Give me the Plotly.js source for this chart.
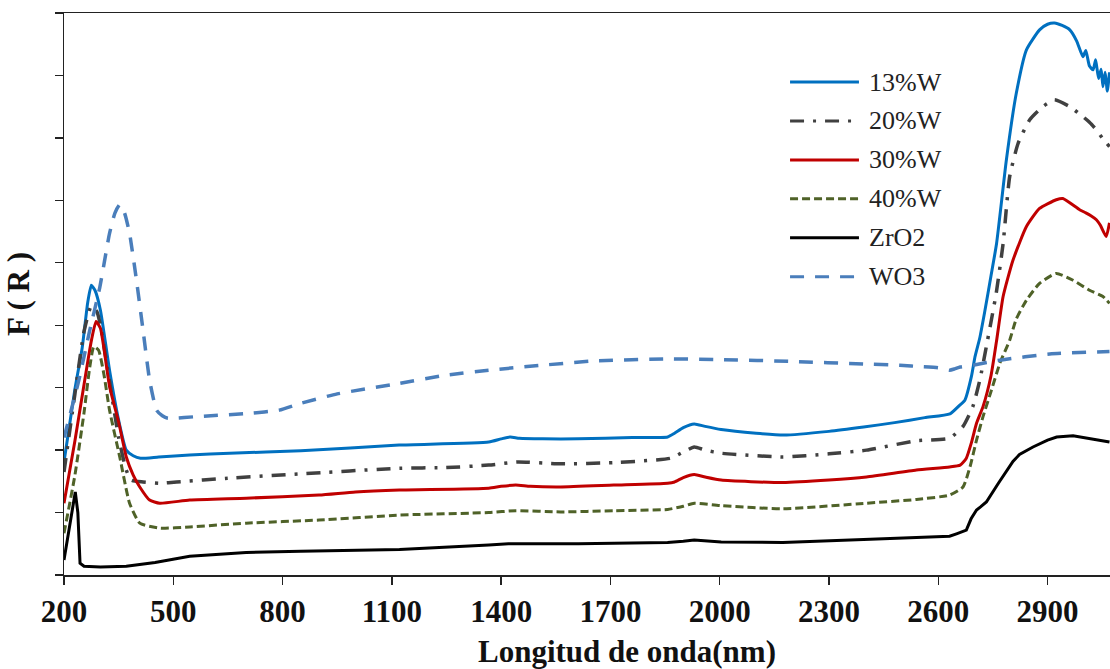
<!DOCTYPE html>
<html>
<head>
<meta charset="utf-8">
<script src="https://cdn.plot.ly/plotly-3.0.1.min.js"></script>
<style>
  html, body { margin: 0; padding: 0; overflow: hidden; background: #fff; }
  #chart { width: 1190px; height: 669px; }
</style>
</head>
<body>
<div id="chart"></div>
<script>
// ---- Data ----
const seriesNames = ['13%W', '20%W', '30%W', '40%W', 'ZrO2', 'WO3'];
const xTickValues = [200, 500, 800, 1100, 1400, 1700, 2000, 2300, 2600, 2900];

const wl13 = [200,229,250,265,275,285,300,325,350,371,390,410,460,545,655,850,1120,1366,1400,1425,1450,1514,1612,1760,1857,1876,1900,1930,1960,2004,2100,2176,2300,2395,2480,2563,2632,2659,2673,2691,2701,2714,2727,2745,2760,2787,2814,2842,2878,2900,2919,2940,2961,2980,2997,3005,3015,3025,3032,3040,3047,3052,3058,3064,3070];
const f13  = [1.81,2.94,3.64,4.36,4.64,4.56,4.24,3.28,2.48,2.00,1.91,1.87,1.89,1.92,1.95,1.99,2.08,2.13,2.18,2.21,2.19,2.18,2.18,2.20,2.21,2.27,2.36,2.42,2.38,2.33,2.27,2.24,2.30,2.37,2.44,2.52,2.58,2.72,2.80,3.18,3.50,3.80,4.20,4.80,5.31,6.65,7.71,8.41,8.73,8.82,8.84,8.80,8.73,8.55,8.30,8.40,8.15,8.09,8.25,7.95,8.10,7.82,8.05,7.75,8.05];

const wl20 = [200,230,255,275,290,300,325,350,371,385,417,463,509,650,850,1121,1248,1366,1445,1563,1709,1865,1900,1930,1960,2004,2173,2300,2403,2540,2631,2668,2695,2714,2732,2759,2778,2796,2819,2851,2887,2919,2961,2997,3015,3034,3050,3070];
const f20  = [1.65,2.90,3.90,4.31,4.22,4.00,3.10,2.20,1.68,1.52,1.49,1.47,1.49,1.55,1.62,1.71,1.72,1.76,1.81,1.78,1.80,1.87,1.97,2.05,2.00,1.95,1.89,1.94,2.00,2.15,2.19,2.38,2.70,3.12,3.66,4.51,5.31,6.38,6.91,7.29,7.50,7.61,7.50,7.34,7.25,7.13,7.00,6.86];

const wl30 = [200,230,255,275,288,300,325,350,371,390,408,435,463,545,700,900,1000,1121,1366,1400,1440,1480,1563,1709,1857,1876,1900,1930,1960,2004,2173,2300,2403,2540,2631,2660,2677,2690,2705,2723,2745,2760,2778,2805,2842,2878,2924,2942,2988,3005,3020,3034,3045,3061,3070];
const f30  = [1.15,2.15,3.05,3.75,4.06,3.95,3.02,2.45,1.89,1.60,1.41,1.20,1.15,1.20,1.23,1.28,1.33,1.36,1.39,1.42,1.44,1.42,1.41,1.44,1.47,1.49,1.56,1.61,1.57,1.52,1.48,1.52,1.57,1.68,1.73,1.76,1.87,2.10,2.43,2.70,3.20,3.75,4.46,5.04,5.58,5.87,6.01,6.03,5.85,5.80,5.75,5.69,5.60,5.42,5.64];

const wl40 = [200,230,255,270,282,295,310,325,353,380,408,463,545,700,900,1121,1366,1440,1563,1709,1857,1900,1930,2004,2173,2403,2540,2631,2668,2687,2705,2723,2746,2769,2796,2814,2842,2878,2924,2970,3015,3052,3070];
const f40  = [0.67,1.60,2.60,3.30,3.66,3.60,3.20,2.64,1.89,1.15,0.83,0.75,0.77,0.83,0.88,0.96,1.00,1.03,1.01,1.03,1.05,1.10,1.15,1.11,1.06,1.15,1.21,1.28,1.41,1.73,2.16,2.54,2.96,3.39,3.76,4.10,4.40,4.67,4.83,4.72,4.56,4.46,4.35];

const wlZr = [200,215,225,231,238,244,255,300,371,450,545,700,850,1000,1121,1366,1420,1612,1857,1900,1930,2004,2173,2395,2560,2631,2650,2668,2677,2690,2705,2716,2732,2765,2805,2823,2860,2900,2925,2970,3043,3070];
const fZr  = [0.24,0.75,1.15,1.33,1.00,0.19,0.14,0.13,0.14,0.20,0.30,0.36,0.38,0.40,0.41,0.48,0.50,0.50,0.52,0.54,0.56,0.53,0.52,0.57,0.60,0.62,0.66,0.70,0.72,0.90,1.04,1.09,1.17,1.47,1.82,1.93,2.05,2.16,2.21,2.23,2.16,2.13];

const wlWO = [200,240,270,298,325,340,353,366,380,399,417,435,454,470,485,572,710,791,850,950,1121,1248,1366,1514,1660,1857,2004,2200,2395,2494,2543,2600,2631,2645,2660,2695,2769,2906,3070];
const fWO  = [2.20,3.10,3.90,4.60,5.47,5.80,5.93,5.80,5.47,4.72,3.92,3.12,2.64,2.55,2.51,2.54,2.59,2.64,2.75,2.90,3.07,3.20,3.28,3.36,3.43,3.46,3.45,3.42,3.38,3.36,3.34,3.32,3.28,3.30,3.33,3.36,3.44,3.54,3.58];

// ---- Styles ----
const colors = ['#0070C0', '#404040', '#C00000', '#4F6228', '#000000', '#4A7EBB'];
const dashes = ['solid', '14px,9px,3px,9px', 'solid', '8px,4px', 'solid', '14px,11px'];
const widths = [3, 3.5, 3, 3, 3, 3.5];
const xs = [wl13, wl20, wl30, wl40, wlZr, wlWO];
const ys = [f13, f20, f30, f40, fZr, fWO];
const useSpline = [true, true, true, true, false, true];

const traces = seriesNames.map((n, i) => ({
  x: xs[i], y: ys[i], name: n, type: 'scatter', mode: 'lines',
  line: { color: colors[i], width: widths[i], dash: dashes[i],
          shape: useSpline[i] ? 'spline' : 'linear', smoothing: 0.5 },
  showlegend: false, hoverinfo: 'skip'
}));

// ---- Custom legend (paper coordinates) ----
const serif = "'Liberation Serif', 'Times New Roman', serif";
const legX0 = 0.6448, legX1 = 0.7060, legTextX = 0.7129;
const legTop = 0.8772, legStep = 0.0693;
const shapes = [];
const annotations = [];
seriesNames.forEach((n, i) => {
  const ry = legTop - i * legStep;
  shapes.push({ type: 'line', xref: 'paper', yref: 'paper', x0: legX0, x1: legX1, y0: ry, y1: ry,
    line: { color: colors[i], width: 3, dash: dashes[i] } });
  annotations.push({ xref: 'paper', yref: 'paper', x: legTextX, y: ry, xanchor: 'left', yanchor: 'middle',
    text: n, showarrow: false, font: { family: serif, size: 26, color: '#222' } });
});

const boldFont = { family: serif, size: 31, color: '#111', weight: 'bold' };

const layout = {
  width: 1190, height: 669,
  margin: { l: 64, r: 0, t: 13, b: 94 },
  paper_bgcolor: '#fff', plot_bgcolor: '#fff',
  showlegend: false,
  xaxis: {
    range: [200, 3291], tickmode: 'array', tickvals: xTickValues,
    ticks: 'outside', ticklen: 8, tickwidth: 1.3, tickcolor: '#222',
    showline: true, linecolor: '#222', linewidth: 1.5, mirror: true,
    showgrid: false, zeroline: false,
    tickfont: boldFont,
    title: { text: 'Longitud de onda(nm)', font: boldFont, standoff: 13 },
    automargin: false
  },
  yaxis: {
    range: [0, 9], dtick: 1, tick0: 0,
    ticks: 'outside', ticklen: 8, tickwidth: 1.3, tickcolor: '#222',
    showline: true, linecolor: '#222', linewidth: 1.5,
    showgrid: false, zeroline: false, showticklabels: false,
    title: { text: 'F ( R )', font: boldFont, standoff: 15 },
    automargin: false
  },
  shapes: shapes,
  annotations: annotations
};

Plotly.newPlot('chart', traces, layout, { staticPlot: true, displayModeBar: false });
</script>
</body>
</html>
